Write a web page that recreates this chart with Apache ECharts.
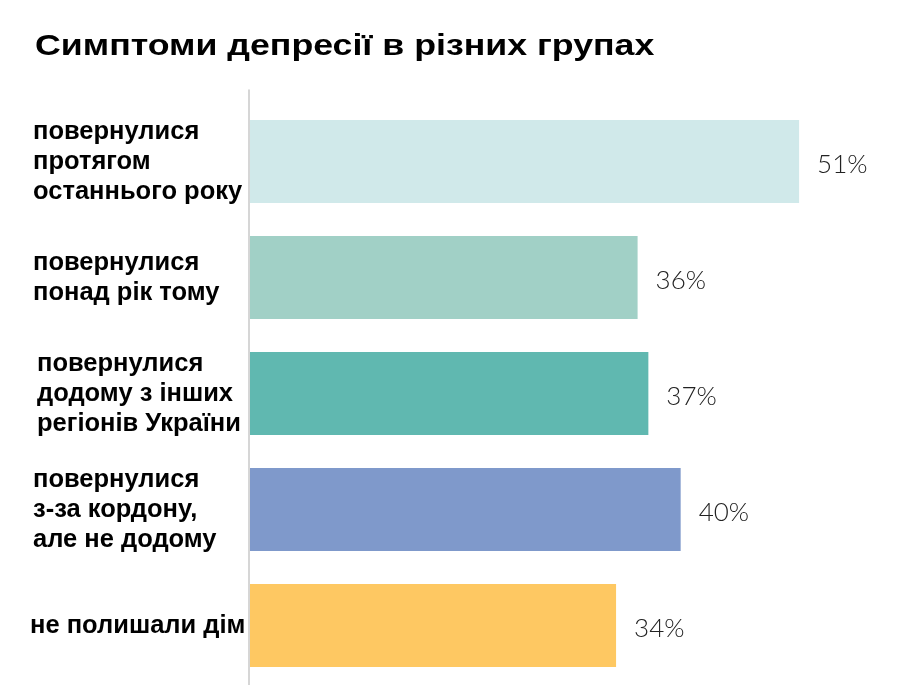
<!DOCTYPE html>
<html>
<head>
<meta charset="utf-8">
<script src="https://cdn.jsdelivr.net/npm/echarts@6/dist/echarts.min.js"></script>
<style>
  html, body { margin: 0; padding: 0; background: #fff; }
  #chart { width: 924px; height: 685px; }
</style>
</head>
<body>
<div id="chart"></div>
<script>
  var titleText = 'Симптоми депресії в різних групах';
  var categories = [
    'повернулися\nпротягом\nостаннього року',
    'повернулися\nпонад рік тому',
    'повернулися\nдодому з інших\nрегіонів України',
    'повернулися\nз-за кордону,\nале не додому',
    'не полишали дім'
  ];
  var values = [51, 36, 37, 40, 34];
  var barColors = ['#d0e9ea', '#a1d0c6', '#60b8b0', '#7f99cb', '#fec862'];
  // small per-label nudges [top, right, bottom, left] padding, as in the original slide
  var labelPads = [[0, 0, 0, 3], [0, 0, 0, 3], [0, 0, 10, 7], [0, 0, 10, 3], [0, 0, 0, 0]];

  var catLabelStyle = {
    align: 'left',
    fontFamily: 'Liberation Sans',
    fontWeight: 'bold',
    fontSize: 25.5,
    lineHeight: 30,
    color: '#000'
  };

  var chart = echarts.init(document.getElementById('chart'));

  var option = {
    animation: false,
    graphic: [{
      type: 'text',
      x: 35,
      y: 47,
      scaleX: 1.19,
      style: {
        text: titleText,
        font: 'bold 30px "Liberation Sans"',
        fill: '#000',
        textVerticalAlign: 'middle'
      }
    }],
    grid: [
      { left: 250, right: 28, top: 103.5, bottom: 1.5, outerBoundsMode: 'none' },
      { left: 249, right: 28, top: 90, bottom: 0, outerBoundsMode: 'none' }
    ],
    xAxis: [
      { type: 'value', min: 0, max: 60, show: false, gridIndex: 0 },
      { type: 'value', min: 0, max: 60, show: false, gridIndex: 1 }
    ],
    yAxis: [
      {
        type: 'category',
        inverse: true,
        gridIndex: 0,
        data: categories.map(function (c, i) {
          return { value: c, textStyle: Object.assign({}, catLabelStyle, { padding: labelPads[i] }) };
        }),
        axisLine: { show: false },
        axisTick: { show: false },
        axisLabel: Object.assign({ margin: 220 }, catLabelStyle)
      },
      {
        type: 'value',
        gridIndex: 1,
        axisLine: { show: true, lineStyle: { color: '#c8c8c8', width: 1.5 } },
        axisTick: { show: false },
        axisLabel: { show: false },
        splitLine: { show: false }
      }
    ],
    series: [{
      type: 'bar',
      xAxisIndex: 0,
      yAxisIndex: 0,
      data: values.map(function (v, i) {
        return { value: v, itemStyle: { color: barColors[i] } };
      }),
      barCategoryGap: '28.5%',
      label: {
        show: true,
        position: 'right',
        distance: 18,
        offset: [0, 3],
        formatter: '{c}%',
        fontFamily: 'Lato',
        fontWeight: 300,
        fontSize: 26,
        color: '#222'
      }
    }]
  };

  chart.setOption(option);
</script>
</body>
</html>
